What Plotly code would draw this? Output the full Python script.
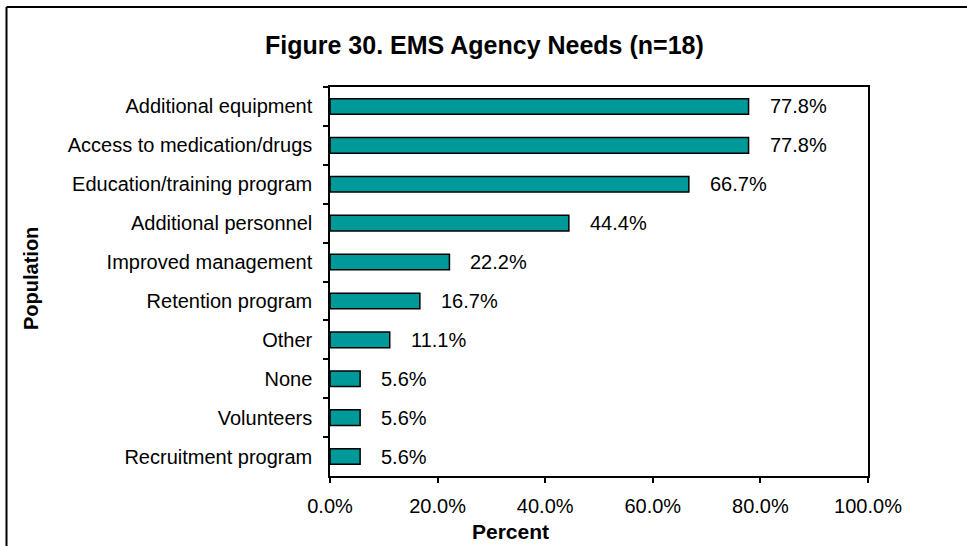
import plotly.graph_objects as go

# EMS agency needs, share of agencies (n=18)
categories = [
    "Additional equipment",
    "Access to medication/drugs",
    "Education/training program",
    "Additional personnel",
    "Improved management",
    "Retention program",
    "Other",
    "None",
    "Volunteers",
    "Recruitment program",
]
percents = [77.8, 77.8, 66.7, 44.4, 22.2, 16.7, 11.1, 5.6, 5.6, 5.6]
x_ticks = [0, 20, 40, 60, 80, 100]
x_tick_labels = ["0.0%", "20.0%", "40.0%", "60.0%", "80.0%", "100.0%"]

FONT = "Arial, Liberation Sans, sans-serif"
W, H = 967, 546
L, R, T, B = 330, 99, 87, 70
pw, ph = W - L - R, H - T - B


def px_x(px):
    return (px - L) / pw


def px_y(py):
    return (H - B - py) / ph


fig = go.Figure(
    go.Bar(
        x=percents,
        y=categories,
        orientation="h",
        marker=dict(color="#009999", line=dict(color="black", width=1.5)),
        width=0.4,
        hoverinfo="skip",
    )
)

annotations = [
    dict(
        x=v, y=c, xref="x", yref="y", text=f"{v:.1f}%", showarrow=False,
        xanchor="left", xshift=19, font=dict(family=FONT, size=20, color="black"),
    )
    for c, v in zip(categories, percents)
]
annotations += [
    dict(
        x=px_x(484), y=px_y(45), xref="paper", yref="paper",
        text="<b>Figure 30. EMS Agency Needs (n=18)</b>", showarrow=False,
        xanchor="center", yanchor="middle",
        font=dict(family=FONT, size=25, color="black"),
    ),
    dict(
        x=px_x(510), y=px_y(531), xref="paper", yref="paper",
        text="<b>Percent</b>", showarrow=False, xanchor="center", yanchor="middle",
        font=dict(family=FONT, size=21, color="black"),
    ),
    dict(
        x=px_x(31), y=px_y(279), xref="paper", yref="paper",
        text="<b>Population</b>", showarrow=False, textangle=-90,
        xanchor="center", yanchor="middle",
        font=dict(family=FONT, size=20, color="black"),
    ),
]

fig.update_layout(
    width=W,
    height=H,
    margin=dict(l=L, r=R, t=T, b=B, pad=0),
    paper_bgcolor="white",
    plot_bgcolor="white",
    showlegend=False,
    annotations=annotations,
    font=dict(family=FONT, size=20, color="black"),
    shapes=[
        # frame around the whole figure
        dict(type="line", xref="paper", yref="paper",
             x0=px_x(6.5), x1=px_x(970), y0=px_y(7), y1=px_y(7),
             line=dict(color="black", width=2)),
        dict(type="line", xref="paper", yref="paper",
             x0=px_x(6.5), x1=px_x(6.5), y0=px_y(7), y1=px_y(550),
             line=dict(color="black", width=2)),
    ],
)

fig.update_xaxes(
    range=[0, 100],
    tickvals=x_ticks,
    ticktext=x_tick_labels,
    showgrid=False,
    zeroline=False,
    showline=True,
    mirror=True,
    linecolor="black",
    linewidth=1.5,
    ticks="outside",
    ticklen=5,
    tickwidth=1.5,
    tickcolor="black",
    ticklabelstandoff=6,
    tickfont=dict(family=FONT, size=20, color="black"),
    fixedrange=True,
)
fig.update_yaxes(
    autorange="reversed",
    categoryorder="array",
    categoryarray=categories,
    showgrid=False,
    zeroline=False,
    showline=True,
    mirror=True,
    linecolor="black",
    linewidth=1.5,
    ticks="outside",
    tickson="boundaries",
    ticklen=5,
    tickwidth=1.5,
    tickcolor="black",
    ticklabelstandoff=12,
    tickfont=dict(family=FONT, size=20, color="black"),
    fixedrange=True,
)

fig.write_html("out.html", config={"displayModeBar": False})
